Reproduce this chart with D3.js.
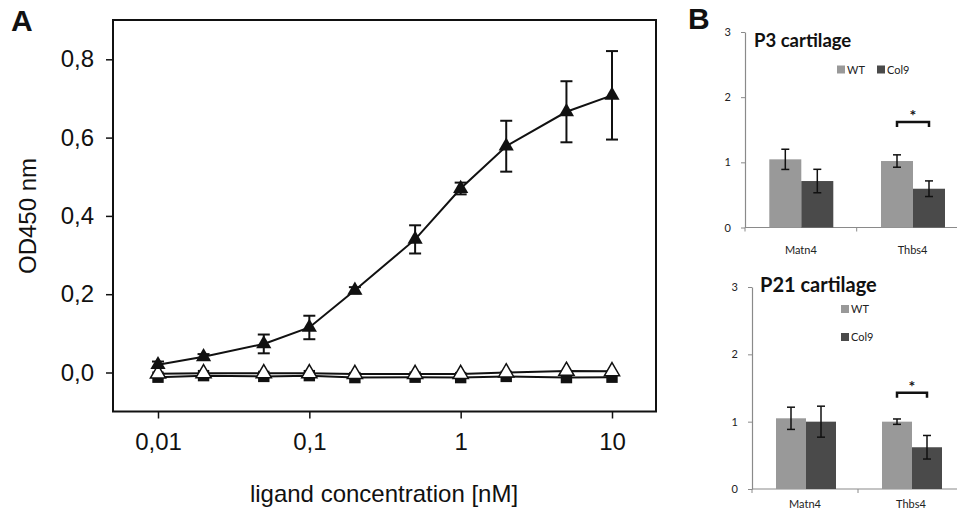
<!DOCTYPE html>
<html>
<head>
<meta charset="utf-8">
<script src="https://cdn.jsdelivr.net/npm/d3@7"></script>
<style>
  body { margin: 0; background: #fff; }
  svg { display: block; }
</style>
</head>
<body>
<div id="chart"></div>
<script>
// ---- panel A data (ELISA binding) ----
const concentrations = [0.01, 0.02, 0.05, 0.1, 0.2, 0.5, 1, 2, 5, 10];
const ligandMean = [0.02, 0.04, 0.073, 0.115, 0.21, 0.34, 0.47, 0.578, 0.666, 0.708];
const ligandErr = [0.008, 0.007, 0.024, 0.03, 0.008, 0.036, 0.015, 0.065, 0.078, 0.113];
const controlOpen = [-0.003, -0.002, -0.002, -0.002, -0.004, -0.004, -0.004, 0.0, 0.004, 0.003];
const controlSquare = [-0.012, -0.008, -0.01, -0.008, -0.013, -0.012, -0.013, -0.01, -0.013, -0.012];
const xTickValues = [0.01, 0.1, 1, 10];
const xTickLabels = ["0,01", "0,1", "1", "10"];
const yTickValues = [0, 0.2, 0.4, 0.6, 0.8];

// ---- panel B data (relative expression) ----
const genes = ["Matn4", "Thbs4"];
const groups = ["WT", "Col9"];
const p3WT = [1.046, 1.02];
const p3WTErr = [0.155, 0.095];
const p3Col9 = [0.713, 0.595];
const p3Col9Err = [0.18, 0.12];
const p21WT = [1.05, 1.0];
const p21WTErr = [0.165, 0.04];
const p21Col9 = [1.0, 0.62];
const p21Col9Err = [0.23, 0.175];
const barTicks = [0, 1, 2, 3];

const W = 957, H = 510;
const svg = d3.select("#chart").append("svg")
    .attr("width", W)
    .attr("height", H);

// ================= Panel A =================
const boxA = {left: 113, right: 656, top: 20, bottom: 411.5};

const xA = d3.scaleLog()
    .domain([0.01, 10])
    .range([158, 612]);

const yA = d3.scaleLinear()
    .domain([0, 0.8])
    .range([372.5, 59.3]);

const gA = svg.append("g").attr("font-family", "'Liberation Sans', Arial, sans-serif");

gA.append("rect")
    .attr("x", boxA.left).attr("y", boxA.top)
    .attr("width", boxA.right - boxA.left)
    .attr("height", boxA.bottom - boxA.top)
    .attr("fill", "none").attr("stroke", "#111").attr("stroke-width", 2);

const xAxisA = d3.axisBottom(xA)
    .tickValues(xTickValues)
    .tickFormat((d, i) => xTickLabels[i])
    .tickSize(7).tickPadding(14);

gA.append("g")
    .attr("transform", `translate(0,${boxA.bottom})`)
    .call(xAxisA)
    .call(g => g.select(".domain").remove())
    .call(g => g.selectAll("line").attr("stroke", "#111").attr("stroke-width", 1.5))
    .call(g => g.selectAll("text").attr("font-size", 24).attr("fill", "#111")
        .attr("font-family", "'Liberation Sans', Arial, sans-serif"));

const yAxisA = d3.axisLeft(yA)
    .tickValues(yTickValues)
    .tickFormat(d => d3.format(".1f")(d).replace(".", ","))
    .tickSize(7).tickPadding(12);

gA.append("g")
    .attr("transform", `translate(${boxA.left},0)`)
    .call(yAxisA)
    .call(g => g.select(".domain").remove())
    .call(g => g.selectAll("line").attr("stroke", "#111").attr("stroke-width", 1.5))
    .call(g => g.selectAll("text").attr("font-size", 24).attr("fill", "#111")
        .attr("font-family", "'Liberation Sans', Arial, sans-serif"));

gA.append("text")
    .attr("x", 384).attr("y", 502)
    .attr("text-anchor", "middle")
    .attr("font-size", 24).attr("fill", "#111")
    .text("ligand concentration [nM]");

gA.append("text")
    .attr("transform", "translate(36,216) rotate(-90)")
    .attr("text-anchor", "middle")
    .attr("font-size", 24).attr("fill", "#111")
    .text("OD450 nm");

gA.append("text")
    .attr("x", 11).attr("y", 31)
    .attr("font-size", 30).attr("font-weight", "bold").attr("fill", "#111")
    .text("A");

const lineA = d3.line()
    .x(d => xA(d.x))
    .y(d => yA(d.y));

const squareData = concentrations.map((c, i) => ({x: c, y: controlSquare[i]}));
const openData = concentrations.map((c, i) => ({x: c, y: controlOpen[i]}));
const ligandData = concentrations.map((c, i) => ({x: c, y: ligandMean[i], e: ligandErr[i]}));

// control with filled squares
gA.append("path").datum(squareData)
    .attr("d", lineA).attr("fill", "none").attr("stroke", "#111").attr("stroke-width", 2);
gA.selectAll(".sq").data(squareData).enter().append("path")
    .attr("class", "sq")
    .attr("transform", d => `translate(${xA(d.x)},${yA(d.y)})`)
    .attr("d", d3.symbol(d3.symbolSquare, 130))
    .attr("fill", "#111");

// control with open triangles
gA.append("path").datum(openData)
    .attr("d", lineA).attr("fill", "none").attr("stroke", "#111").attr("stroke-width", 2);
gA.selectAll(".tri-open").data(openData).enter().append("path")
    .attr("class", "tri-open")
    .attr("transform", d => `translate(${xA(d.x)},${yA(d.y)})`)
    .attr("d", d3.symbol(d3.symbolTriangle, 100))
    .attr("fill", "#fff").attr("stroke", "#111").attr("stroke-width", 1.5);

// ligand with error bars
const errA = gA.selectAll(".err").data(ligandData).enter().append("g").attr("class", "err")
    .attr("stroke", "#111").attr("stroke-width", 2);
errA.append("line")
    .attr("x1", d => xA(d.x)).attr("x2", d => xA(d.x))
    .attr("y1", d => yA(d.y - d.e)).attr("y2", d => yA(d.y + d.e));
errA.append("line")
    .attr("x1", d => xA(d.x) - 6).attr("x2", d => xA(d.x) + 6)
    .attr("y1", d => yA(d.y + d.e)).attr("y2", d => yA(d.y + d.e));
errA.append("line")
    .attr("x1", d => xA(d.x) - 6).attr("x2", d => xA(d.x) + 6)
    .attr("y1", d => yA(d.y - d.e)).attr("y2", d => yA(d.y - d.e));

gA.append("path").datum(ligandData)
    .attr("d", lineA).attr("fill", "none").attr("stroke", "#111").attr("stroke-width", 2);
gA.selectAll(".tri").data(ligandData).enter().append("path")
    .attr("class", "tri")
    .attr("transform", d => `translate(${xA(d.x)},${yA(d.y)})`)
    .attr("d", d3.symbol(d3.symbolTriangle, 100))
    .attr("fill", "#111");

// ================= Panel B =================
svg.append("text")
    .attr("x", 688).attr("y", 29)
    .attr("font-family", "'Liberation Sans', Arial, sans-serif")
    .attr("font-size", 30).attr("font-weight", "bold").attr("fill", "#111")
    .text("B");

const colors = {WT: "#999999", Col9: "#4a4a4a"};

function barPanel(cfg) {
    const g = svg.append("g").attr("font-family", "Lato, 'Open Sans', sans-serif");

    const x = d3.scaleBand()
        .domain(genes)
        .range([cfg.x0, cfg.x0 + cfg.band * genes.length]);

    const y = d3.scaleLinear()
        .domain([0, 3])
        .range([cfg.y0, cfg.y3]);

    const yAxis = d3.axisLeft(y)
        .tickValues(barTicks)
        .tickFormat(d3.format("d"))
        .tickSize(4).tickSizeOuter(0).tickPadding(10);

    g.append("g")
        .attr("transform", `translate(${cfg.x0},0)`)
        .call(yAxis)
        .call(a => a.select(".domain").attr("stroke", "#8a8a8a").attr("stroke-width", 1.2))
        .call(a => a.selectAll("line").attr("stroke", "#8a8a8a"))
        .call(a => a.selectAll("text").attr("font-size", 11).attr("fill", "#222")
            .attr("font-family", "Lato, 'Open Sans', sans-serif"));

    // category axis
    g.append("line")
        .attr("x1", cfg.x0).attr("x2", W)
        .attr("y1", y(0)).attr("y2", y(0))
        .attr("stroke", "#8a8a8a").attr("stroke-width", 1.2);
    g.selectAll(".sep").data(genes).enter().append("line")
        .attr("x1", d => x(d)).attr("x2", d => x(d))
        .attr("y1", y(0)).attr("y2", y(0) + 4)
        .attr("stroke", "#8a8a8a");
    g.selectAll(".cat").data(genes).enter().append("text")
        .attr("x", d => x(d) + x.bandwidth() / 2)
        .attr("y", y(0) + cfg.catDy)
        .attr("text-anchor", "middle")
        .attr("font-size", 11).attr("fill", "#222")
        .text(d => d);

    const inner = d3.scaleBand()
        .domain(groups)
        .range([cfg.offset, cfg.offset + cfg.barW * 2]);

    const rows = [];
    genes.forEach((gene, i) => {
        rows.push({gene, grp: "WT", v: cfg.wt[i], e: cfg.wtErr[i]});
        rows.push({gene, grp: "Col9", v: cfg.col9[i], e: cfg.col9Err[i]});
    });

    g.selectAll(".bar").data(rows).enter().append("rect")
        .attr("x", d => x(d.gene) + inner(d.grp))
        .attr("y", d => y(d.v))
        .attr("width", inner.bandwidth())
        .attr("height", d => y(0) - y(d.v))
        .attr("fill", d => colors[d.grp]);

    const eb = g.selectAll(".eb").data(rows).enter().append("g")
        .attr("stroke", "#111").attr("stroke-width", 1.5);
    const cx = d => x(d.gene) + inner(d.grp) + inner.bandwidth() / 2;
    eb.append("line")
        .attr("x1", cx).attr("x2", cx)
        .attr("y1", d => y(d.v - d.e)).attr("y2", d => y(d.v + d.e));
    eb.append("line")
        .attr("x1", d => cx(d) - 4).attr("x2", d => cx(d) + 4)
        .attr("y1", d => y(d.v + d.e)).attr("y2", d => y(d.v + d.e));
    eb.append("line")
        .attr("x1", d => cx(d) - 4).attr("x2", d => cx(d) + 4)
        .attr("y1", d => y(d.v - d.e)).attr("y2", d => y(d.v - d.e));

    // significance bracket over Thbs4
    const bx1 = x("Thbs4") + inner("WT") + inner.bandwidth() / 2;
    const bx2 = x("Thbs4") + inner("Col9") + inner.bandwidth() / 2;
    const by = y(cfg.sig);
    g.append("path")
        .attr("d", `M${bx1},${by + 5}V${by}H${bx2}V${by + 5}`)
        .attr("fill", "none").attr("stroke", "#111").attr("stroke-width", 2.5);
    g.append("text")
        .attr("x", (bx1 + bx2) / 2).attr("y", by - 1)
        .attr("text-anchor", "middle")
        .attr("font-size", 16).attr("font-weight", "bold").attr("fill", "#111")
        .text("*");

    g.append("text")
        .attr("x", cfg.titleX).attr("y", cfg.titleY)
        .attr("font-size", cfg.titleSize).attr("font-weight", "bold").attr("fill", "#111")
        .text(cfg.title);

    // legend
    cfg.legend.forEach((p, i) => {
        g.append("rect")
            .attr("x", p[0]).attr("y", p[1] - 4)
            .attr("width", 8).attr("height", 8)
            .attr("fill", colors[groups[i]]);
        g.append("text")
            .attr("x", p[0] + 10).attr("y", p[1] + 4)
            .attr("font-size", 11).attr("fill", "#222")
            .text(groups[i]);
    });
}

barPanel({
    title: "P3 cartilage", titleX: 754, titleY: 47, titleSize: 18.5,
    x0: 745, band: 111.7, offset: 24.3, barW: 32,
    y0: 227.5, y3: 32, catDy: 26,
    wt: p3WT, wtErr: p3WTErr, col9: p3Col9, col9Err: p3Col9Err,
    sig: 1.62,
    legend: [[837, 69.5], [877, 69.5]]
});

barPanel({
    title: "P21 cartilage", titleX: 760, titleY: 292, titleSize: 20,
    x0: 752, band: 106, offset: 24, barW: 30,
    y0: 489, y3: 287, catDy: 19,
    wt: p21WT, wtErr: p21WTErr, col9: p21Col9, col9Err: p21Col9Err,
    sig: 1.43,
    legend: [[841, 309], [841, 337]]
});
</script>
</body>
</html>
